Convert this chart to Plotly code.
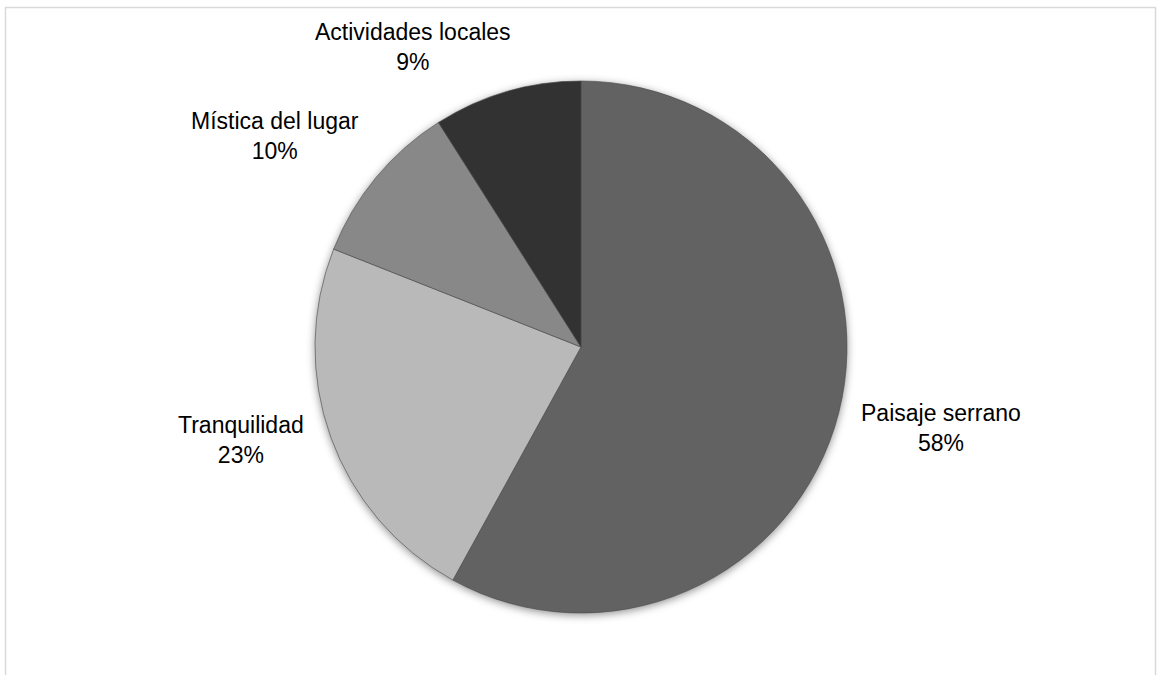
import base64
import plotly.graph_objects as go

# Survey results: reasons for choosing the destination
categories = ["Paisaje serrano", "Tranquilidad", "Mística del lugar", "Actividades locales"]
values = [58, 23, 10, 9]
colors = ["#626262", "#b9b9b9", "#888888", "#323232"]

# Label centres (pixels from the top-left of the page)
label_pos = [(941, 428), (241, 440), (275, 136), (413, 47)]

W, H = 1159, 675
cx, cy, r = 581, 347, 266
FONT = "Liberation Sans, Arial, sans-serif"

fig = go.Figure(
    go.Pie(
        labels=categories,
        values=values,
        sort=False,
        direction="clockwise",
        rotation=0,
        marker=dict(colors=colors, line=dict(width=0.6, color="#4a4a4a")),
        textinfo="none",
        showlegend=False,
        hoverinfo="label+percent",
        domain=dict(x=[(cx - r) / W, (cx + r) / W], y=[(H - cy - r) / H, (H - cy + r) / H]),
    )
)

total = sum(values)
annotations = []
for name, val, (px, py) in zip(categories, values, label_pos):
    annotations.append(
        dict(
            text=f"{name}<br>{round(100 * val / total)}%",
            xref="paper", yref="paper",
            x=px / W, y=(H - py) / H,
            xanchor="center", yanchor="middle",
            showarrow=False,
            align="center",
            font=dict(family=FONT, size=23, color="#000000"),
        )
    )

# soft drop shadow under the pie
shadow_svg = f"""<svg xmlns='http://www.w3.org/2000/svg' width='{2*r+40}' height='{2*r+40}'>
<defs><filter id='b' x='-20%' y='-20%' width='140%' height='140%'><feGaussianBlur stdDeviation='4'/></filter></defs>
<circle cx='{r+20}' cy='{r+22}' r='{r}' fill='#000' fill-opacity='0.45' filter='url(#b)'/></svg>"""
shadow_src = "data:image/svg+xml;base64," + base64.b64encode(shadow_svg.encode()).decode()

fig.update_layout(
    width=W,
    height=H,
    margin=dict(l=0, r=0, t=0, b=0),
    paper_bgcolor="#ffffff",
    plot_bgcolor="#ffffff",
    annotations=annotations,
    images=[
        dict(
            source=shadow_src,
            xref="paper", yref="paper",
            x=(cx - r - 20) / W, y=(H - cy + r + 20) / H,
            sizex=(2 * r + 40) / W, sizey=(2 * r + 40) / H,
            xanchor="left", yanchor="top",
            sizing="stretch",
            layer="below",
        )
    ],
    shapes=[
        dict(
            type="rect", xref="paper", yref="paper",
            x0=5.5 / W, x1=1155.5 / W, y0=-0.05, y1=(H - 7.5) / H,
            line=dict(color="#d9d9d9", width=1.5),
            fillcolor="rgba(0,0,0,0)",
            layer="below",
        )
    ],
)

fig.write_html("out.html")
